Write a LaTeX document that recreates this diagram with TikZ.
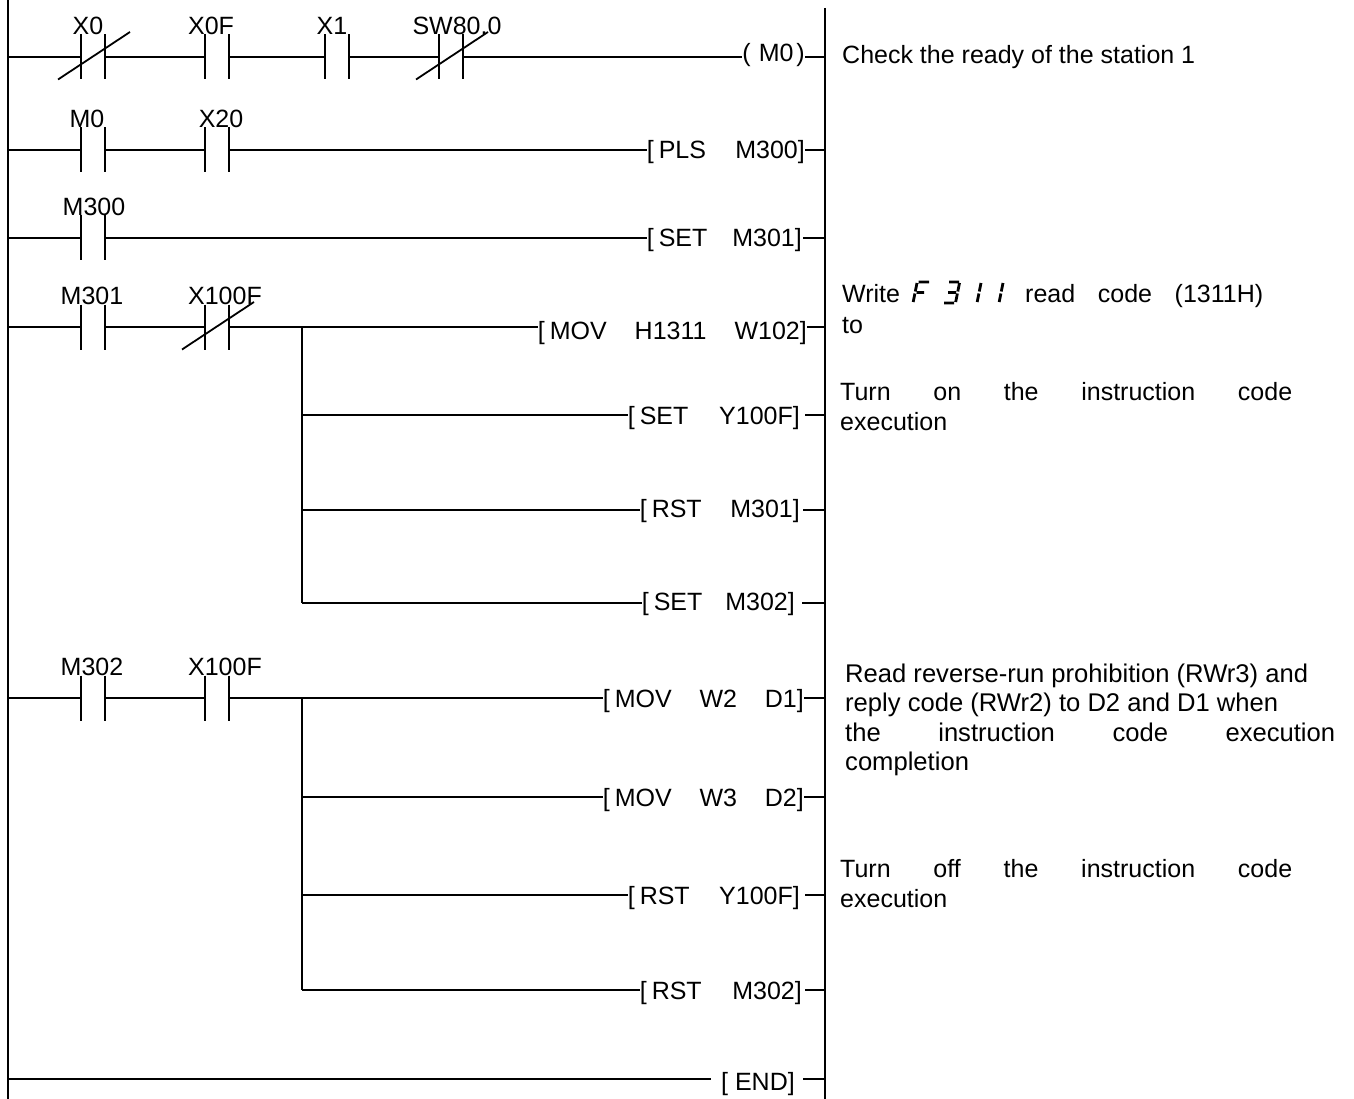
\documentclass[tikz,border=0pt]{standalone}
\usepackage{fontspec}
\setmainfont{Liberation Sans}
\newcommand\ssF[1]{\begin{scope}[shift={#1},xslant=0.2]\draw[seg] (0,-1)--(0,-9.5) (0,-11.5)--(0,-20) (1.5,-21)--(12,-21) (1.5,-10.5)--(9,-10.5);\end{scope}}
\newcommand\ssT[1]{\begin{scope}[shift={#1},xslant=0.2]\draw[seg] (1,-21)--(11,-21) (2,-10.5)--(10,-10.5) (0,0)--(10,0) (11.5,-11.5)--(11.5,-20) (11.5,-1)--(11.5,-9.5);\end{scope}}
\newcommand\ssO[1]{\begin{scope}[shift={#1},xslant=0.2]\draw[seg] (0,-1)--(0,-9.5) (0,-11.5)--(0,-20);\end{scope}}
\begin{document}
\begin{tikzpicture}[x=1pt,y=-1pt,
  wire/.style={line width=1.8pt},
  seg/.style={line width=2.8pt},
  every node/.style={font=\fontsize{25pt}{29pt}\selectfont},
  big/.style={font=\fontsize{25.6pt}{29pt}\selectfont},
  no/.style={rectangle, minimum width=24pt, minimum height=45pt, inner sep=0pt, outer sep=0pt,
    append after command={(\tikzlastnode.north west) edge[wire] (\tikzlastnode.south west)
      (\tikzlastnode.north east) edge[wire] (\tikzlastnode.south east)}},
  nc/.style={no, append after command={([xshift=-23pt]\tikzlastnode.south west) edge[wire] ([xshift=25pt,yshift=2.5pt]\tikzlastnode.north east)}},
  lab/.style={anchor=base, inner sep=0pt},
  instr/.style={anchor=base east, inner sep=0pt},
  note/.style={anchor=base west, inner sep=0pt}
]
\useasboundingbox (0,0) rectangle (1354,1099);
% rails
\coordinate (lr) at (8,0);
\coordinate (rr) at (825,0);
\draw[wire] (8,0) -- (8,1099);
\draw[wire] (825,8) -- (825,1099);
% rung rows
\coordinate (y1) at (0,57);
\coordinate (y2) at (0,150);
\coordinate (y3) at (0,238);
\coordinate (y4) at (0,327);
\coordinate (y4b) at (0,415);
\coordinate (y4c) at (0,510);
\coordinate (y4d) at (0,603);
\coordinate (y5) at (0,698);
\coordinate (y5b) at (0,797);
\coordinate (y5c) at (0,895);
\coordinate (y5d) at (0,990);
\coordinate (y6) at (0,1079);

% ---------- rung 1
\node[nc] (x0) at (93,57) {};
\node[no] (x0f) at (217,57) {};
\node[no] (x1) at (337,57) {};
\node[nc] (sw) at (451,57) {};
\node[lab] (lx0) at ([xshift=-5pt]x0.north) {X0};
\node[lab] (lx0f) at ([xshift=-6pt]x0f.north) {X0F};
\node[lab] (lx1) at ([xshift=-5pt]x1.north) {X1};
\node[lab] (lsw) at ([xshift=6pt]sw.north) {SW80.0};
\node[instr] (m0) at (805,62) {(\hspace{8pt}M0\hspace{3pt})};
\draw[wire] (lr |- y1) -- (x0.west) (x0.east) -- (x0f.west) (x0f.east) -- (x1.west)
  (x1.east) -- (sw.west) (sw.east) -- (m0.west |- y1) (m0.east |- y1) -- (rr |- y1);

% ---------- rung 2
\node[no] (cm0) at (93,150) {};
\node[no] (x20) at (217,150) {};
\node[lab] (lm0) at ([xshift=-6pt]cm0.north) {M0};
\node[lab] (lx20) at ([xshift=4pt]x20.north) {X20};
\node[instr] (pls) at (805,159) {\makebox[158pt][s]{[\hspace{5pt}PLS M300]}};
\draw[wire] (lr |- y2) -- (cm0.west) (cm0.east) -- (x20.west) (x20.east) -- (pls.west |- y2)
  (pls.east |- y2) -- (rr |- y2);

% ---------- rung 3
\node[no] (m300) at (93,238) {};
\node[lab] (lm300) at ([xshift=1pt]m300.north) {M300};
\node[instr] (set1) at (802,247) {\makebox[155pt][s]{[\hspace{5pt}SET M301]}};
\draw[wire] (lr |- y3) -- (m300.west) (m300.east) -- (set1.west |- y3)
  ([xshift=1pt]set1.east |- y3) -- (rr |- y3);

% ---------- rung 4
\node[no] (m301) at (93,327) {};
\node[nc] (x100f) at (217,327) {};
\node[lab] (lm301) at ([xshift=-1pt]m301.north) {M301};
\node[lab] (lx100f) at ([xshift=8pt]x100f.north) {X100F};
\coordinate (j1) at (302,327);
\node[instr] (mov1) at (807,339) {\makebox[269pt][s]{[\hspace{5pt}MOV H1311 W102]}};
\node[instr] (set2) at (800,424) {\makebox[172pt][s]{[\hspace{5pt}SET Y100F]}};
\node[instr] (rst1) at (800,517) {\makebox[160pt][s]{[\hspace{5pt}RST M301]}};
\node[instr] (set3) at (795,610) {\makebox[153pt][s]{[\hspace{5pt}SET M302]}};
\draw[wire] (lr |- y4) -- (m301.west) (m301.east) -- (x100f.west) (x100f.east) -- (j1)
  (j1) -- (mov1.west |- y4) (mov1.east |- y4) -- (rr |- y4);
\draw[wire] (j1) -- (j1 |- y4d);
\draw[wire] (j1 |- y4b) -- (set2.west |- y4b) ([xshift=5pt]set2.east |- y4b) -- (rr |- y4b);
\draw[wire] (j1 |- y4c) -- (rst1.west |- y4c) ([xshift=3pt]rst1.east |- y4c) -- (rr |- y4c);
\draw[wire] (j1 |- y4d) -- (set3.west |- y4d) ([xshift=7pt]set3.east |- y4d) -- (rr |- y4d);

% ---------- rung 5
\node[no] (m302) at (93,698) {};
\node[no] (x100fb) at (217,698) {};
\node[lab] (lm302) at ([xshift=-1pt]m302.north) {M302};
\node[lab] (lx100fb) at ([xshift=8pt]x100fb.north) {X100F};
\coordinate (j2) at (302,698);
\node[instr] (mov2) at (804,707) {\makebox[201pt][s]{[\hspace{5pt}MOV W2 D1]}};
\node[instr] (mov3) at (804,806) {\makebox[201pt][s]{[\hspace{5pt}MOV W3 D2]}};
\node[instr] (rst2) at (800,904) {\makebox[172pt][s]{[\hspace{5pt}RST Y100F]}};
\node[instr] (rst3) at (802,999) {\makebox[162pt][s]{[\hspace{5pt}RST M302]}};
\draw[wire] (lr |- y5) -- (m302.west) (m302.east) -- (x100fb.west) (x100fb.east) -- (j2)
  (j2) -- (mov2.west |- y5) (mov2.east |- y5) -- (rr |- y5);
\draw[wire] (j2) -- (j2 |- y5d);
\draw[wire] (j2 |- y5b) -- (mov3.west |- y5b) (mov3.east |- y5b) -- (rr |- y5b);
\draw[wire] (j2 |- y5c) -- (rst2.west |- y5c) ([xshift=5pt]rst2.east |- y5c) -- (rr |- y5c);
\draw[wire] (j2 |- y5d) -- (rst3.west |- y5d) ([xshift=3pt]rst3.east |- y5d) -- (rr |- y5d);

% ---------- END
\node[instr] (endi) at (795,1090) {[ END]};
\draw[wire] (lr |- y6) -- ([xshift=-10pt]endi.west |- y6) ([xshift=8pt]endi.east |- y6) -- (rr |- y6);

% ---------- comments
\node[note] (t1) at (842,64) {Check the ready of the station 1};
\node[note] (t2a) at (842,302) {Write};
\ssF{(913,303)}
\ssT{(944,303)}
\ssO{(977,303)}
\ssO{(999,303)}
\node[note] (t2b) at (1025,302) {\makebox[238pt][s]{read code (1311H)}};
\node[note] (t2c) at (842,333) {to};
\node[note] (t3a) at (840,400) {\makebox[452pt][s]{Turn on the instruction code}};
\node[note] (t3b) at (840,430) {execution};
\node[note,big] (t4a) at (845,682) {Read reverse-run prohibition (RWr3) and};
\node[note,big] (t4b) at (845,711) {reply code (RWr2) to D2 and D1 when};
\node[note,big] (t4c) at (845,741) {\makebox[490pt][s]{the instruction code execution}};
\node[note,big] (t4d) at (845,770) {completion};
\node[note] (t5a) at (840,877) {\makebox[452pt][s]{Turn off the instruction code}};
\node[note] (t5b) at (840,907) {execution};
\end{tikzpicture}
\end{document}
